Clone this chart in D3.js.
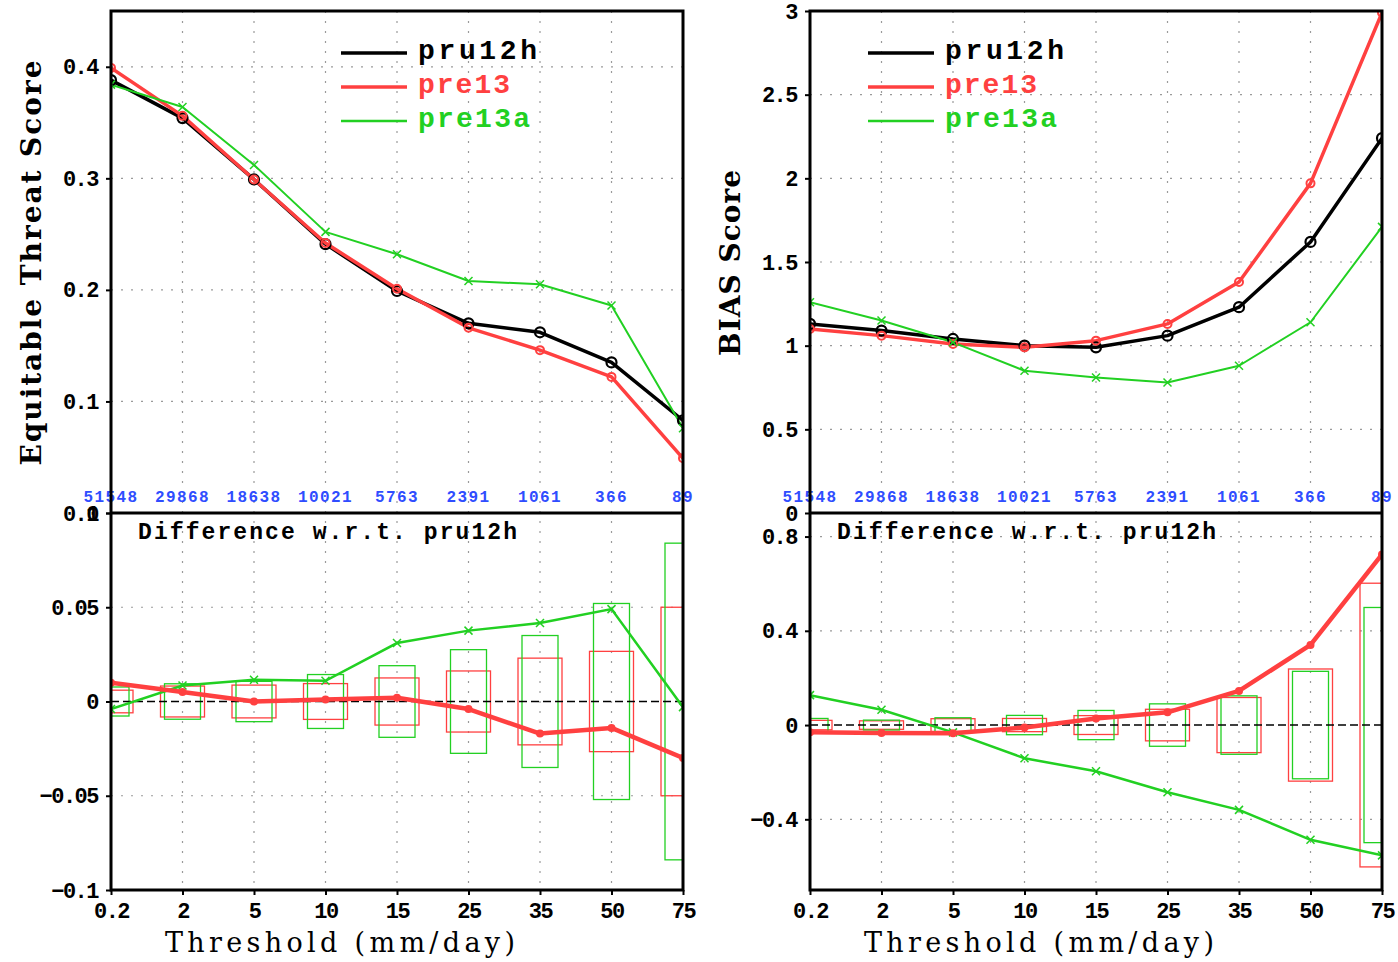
<!DOCTYPE html>
<html>
<head>
<meta charset="utf-8">
<script src="https://cdn.jsdelivr.net/npm/d3@7"></script>
<style>
body { margin: 0; background: #fff; }
</style>
</head>
<body>
<div class="container"></div>
<script>
// thresholds (x categories) and number of observed points above each threshold
let thresholds = ["0.2", "2", "5", "10", "15", "25", "35", "50", "75"];
let counts = ["51548", "29868", "18638", "10021", "5763", "2391", "1061", "366", "89"];
let names = ["pru12h", "pre13", "pre13a"];

// equitable threat score
let etsPru12h = [0.388, 0.354, 0.299, 0.241, 0.199, 0.170, 0.162, 0.135, 0.083];
let etsPre13 = [0.399, 0.356, 0.299, 0.242, 0.201, 0.166, 0.146, 0.122, 0.049];
let etsPre13a = [0.384, 0.364, 0.312, 0.252, 0.232, 0.208, 0.205, 0.186, 0.076];

// ets differences w.r.t. pru12h, and half widths of the boxes
let etsDiffPre13 = [0.010, 0.005, 0.000, 0.001, 0.002, -0.004, -0.017, -0.014, -0.030];
let etsDiffPre13a = [-0.004, 0.0085, 0.0115, 0.011, 0.031, 0.0376, 0.0416, 0.049, -0.003];
let etsBoxPre13 = [0.006, 0.0082, 0.0087, 0.0095, 0.0125, 0.0162, 0.023, 0.0266, 0.050];
let etsBoxPre13a = [0.0077, 0.0094, 0.0107, 0.0143, 0.019, 0.0275, 0.035, 0.052, 0.084];

// bias score
let biasPru12h = [1.13, 1.09, 1.04, 1.00, 0.99, 1.06, 1.23, 1.62, 2.24];
let biasPre13 = [1.10, 1.06, 1.01, 0.99, 1.03, 1.13, 1.38, 1.97, 2.99];
let biasPre13a = [1.26, 1.15, 1.02, 0.85, 0.81, 0.78, 0.88, 1.14, 1.71];

// bias differences w.r.t. pru12h, and half widths of the boxes
let biasDiffPre13 = [-0.031, -0.034, -0.035, -0.010, 0.028, 0.054, 0.145, 0.340, 0.724];
let biasDiffPre13a = [0.127, 0.065, -0.031, -0.141, -0.196, -0.285, -0.360, -0.487, -0.553];
let biasBoxPre13 = [0.020, 0.018, 0.027, 0.028, 0.040, 0.067, 0.117, 0.238, 0.602];
let biasBoxPre13a = [0.028, 0.021, 0.031, 0.041, 0.062, 0.090, 0.124, 0.228, 0.499];

let BLACK = "#000", RED = "#ff4040", GREEN = "#22d022", BLUE = "#2f4dff";
let MONO = "'Liberation Mono', 'DejaVu Sans Mono', monospace";
let SERIF = "'DejaVu Serif', 'Liberation Serif', serif";

let svg = d3.select(".container").append("svg")
    .attr("width", 1398)
    .attr("height", 962);

let fmt = function (d) { return String(d).replace("-", "\u2212"); };

let panels = [
    {
        x0: 111, x1: 683, yTop: 11, yMid: 513, yBot: 890,
        topDomain: [0, 0.45], topTicks: [0, 0.1, 0.2, 0.3, 0.4],
        botDomain: [-0.1, 0.1], botTicks: [-0.1, -0.05, 0, 0.05, 0.1],
        series: [etsPru12h, etsPre13, etsPre13a],
        diffs: [etsDiffPre13, etsDiffPre13a],
        boxes: [etsBoxPre13, etsBoxPre13a],
        title: "Equitable Threat Score", titleX: 41, titleLen: 405,
        legendX: 341
    },
    {
        x0: 810, x1: 1382, yTop: 11, yMid: 513, yBot: 890,
        topDomain: [0, 3], topTicks: [0, 0.5, 1, 1.5, 2, 2.5, 3],
        botDomain: [-0.7, 0.9], botTicks: [-0.4, 0, 0.4, 0.8],
        series: [biasPru12h, biasPre13, biasPre13a],
        diffs: [biasDiffPre13, biasDiffPre13a],
        boxes: [biasBoxPre13, biasBoxPre13a],
        title: "BIAS Score", titleX: 740, titleLen: 186,
        legendX: 868
    }
];

let legendLens = [119, 92, 112];

panels.forEach(function (p, pi) {
    let x = d3.scalePoint().domain(thresholds).range([p.x0, p.x1]).padding(0);
    let yT = d3.scaleLinear().domain(p.topDomain).range([p.yMid, p.yTop]);
    let yB = d3.scaleLinear().domain(p.botDomain).range([p.yBot, p.yMid]);
    let g = svg.append("g");

    svg.append("defs").append("clipPath")
        .attr("id", "clip" + pi)
        .append("rect")
        .attr("x", p.x0).attr("y", p.yTop)
        .attr("width", p.x1 - p.x0).attr("height", p.yBot - p.yTop);

    // grid
    let grid = g.append("g")
        .attr("stroke", "#9a9a9a")
        .attr("stroke-width", 1.2)
        .attr("stroke-dasharray", "2,8");
    thresholds.slice(1, -1).forEach(function (t) {
        grid.append("line")
            .attr("x1", x(t)).attr("x2", x(t))
            .attr("y1", p.yTop).attr("y2", p.yBot);
    });
    p.topTicks.filter(function (v) { return yT(v) > p.yTop + 2 && yT(v) < p.yMid - 2; })
        .forEach(function (v) {
            grid.append("line").attr("x1", p.x0).attr("x2", p.x1)
                .attr("y1", yT(v)).attr("y2", yT(v));
        });
    p.botTicks.filter(function (v) { return v !== 0 && yB(v) > p.yMid + 2 && yB(v) < p.yBot - 2; })
        .forEach(function (v) {
            grid.append("line").attr("x1", p.x0).attr("x2", p.x1)
                .attr("y1", yB(v)).attr("y2", yB(v));
        });

    // blue counts
    g.append("g").selectAll("text")
        .data(counts)
        .enter()
        .append("text")
        .attr("x", function (d, i) { return x(thresholds[i]); })
        .attr("y", p.yMid - 11)
        .attr("text-anchor", "middle")
        .attr("fill", BLUE)
        .attr("font-family", MONO)
        .attr("font-size", 16)
        .attr("font-weight", "bold")
        .attr("letter-spacing", 1.4)
        .text(function (d) { return d; });

    // top lines
    let line = function (ys) {
        return d3.line()
            .x(function (d, i) { return x(thresholds[i]); })
            .y(function (d) { return ys(d); });
    };
    let styles = [
        { color: BLACK, width: 3.5 },
        { color: RED, width: 3.5 },
        { color: GREEN, width: 2 }
    ];
    let top = g.append("g").attr("clip-path", "url(#clip" + pi + ")");
    p.series.forEach(function (s, si) {
        top.append("path")
            .datum(s)
            .attr("fill", "none")
            .attr("stroke", styles[si].color)
            .attr("stroke-width", styles[si].width)
            .attr("stroke-linejoin", "round")
            .attr("d", line(yT));
    });
    // markers
    top.selectAll(".mk0").data(p.series[0]).enter().append("circle")
        .attr("cx", function (d, i) { return x(thresholds[i]); })
        .attr("cy", function (d) { return yT(d); })
        .attr("r", 5).attr("fill", "none").attr("stroke", BLACK).attr("stroke-width", 2.2);
    top.selectAll(".mk1").data(p.series[1]).enter().append("circle")
        .attr("cx", function (d, i) { return x(thresholds[i]); })
        .attr("cy", function (d) { return yT(d); })
        .attr("r", 4).attr("fill", "none").attr("stroke", RED).attr("stroke-width", 2);
    top.selectAll(".mk2").data(p.series[2]).enter().append("path")
        .attr("transform", function (d, i) { return "translate(" + x(thresholds[i]) + "," + yT(d) + ")"; })
        .attr("d", "M-4,-4L4,4M-4,4L4,-4")
        .attr("stroke", GREEN).attr("stroke-width", 1.5);

    // bottom: boxes
    let bot = g.append("g").attr("clip-path", "url(#clip" + pi + ")");
    let boxStyles = [{ color: RED, half: 22 }, { color: GREEN, half: 18 }];
    p.boxes.forEach(function (b, bi) {
        bot.append("g").selectAll("rect")
            .data(b)
            .enter()
            .append("rect")
            .attr("x", function (d, i) { return x(thresholds[i]) - boxStyles[bi].half; })
            .attr("width", boxStyles[bi].half * 2)
            .attr("y", function (d) { return yB(d); })
            .attr("height", function (d) { return yB(-d) - yB(d); })
            .attr("fill", "none")
            .attr("stroke", boxStyles[bi].color)
            .attr("stroke-width", 1.3);
    });
    bot.append("line")
        .attr("x1", p.x0).attr("x2", p.x1)
        .attr("y1", yB(0)).attr("y2", yB(0))
        .attr("stroke", BLACK).attr("stroke-width", 1.5)
        .attr("stroke-dasharray", "8,4");

    bot.append("path").datum(p.diffs[1])
        .attr("fill", "none").attr("stroke", GREEN).attr("stroke-width", 2.5)
        .attr("d", line(yB));
    bot.selectAll(".dm2").data(p.diffs[1]).enter().append("path")
        .attr("transform", function (d, i) { return "translate(" + x(thresholds[i]) + "," + yB(d) + ")"; })
        .attr("d", "M-4,-4L4,4M-4,4L4,-4")
        .attr("stroke", GREEN).attr("stroke-width", 1.5);
    bot.append("path").datum(p.diffs[0])
        .attr("fill", "none").attr("stroke", RED).attr("stroke-width", 4.5)
        .attr("stroke-linejoin", "round")
        .attr("d", line(yB));
    bot.selectAll(".dm1").data(p.diffs[0]).enter().append("circle")
        .attr("cx", function (d, i) { return x(thresholds[i]); })
        .attr("cy", function (d) { return yB(d); })
        .attr("r", 4).attr("fill", RED);

    // axes
    let styleAxis = function (sel) {
        sel.select(".domain").remove();
        sel.selectAll(".tick line").attr("stroke", BLACK).attr("stroke-width", 2);
        sel.selectAll("text")
            .attr("font-family", MONO)
            .attr("font-weight", "bold")
            .attr("font-size", 22)
            .attr("letter-spacing", -1.5)
            .attr("fill", BLACK);
    };
    g.append("g")
        .attr("transform", "translate(" + p.x0 + ",0)")
        .call(d3.axisLeft(yT).tickValues(p.topTicks).tickSize(5).tickPadding(8).tickFormat(fmt))
        .call(styleAxis);
    g.append("g")
        .attr("transform", "translate(" + p.x0 + ",0)")
        .call(d3.axisLeft(yB).tickValues(p.botTicks).tickSize(5).tickPadding(8).tickFormat(fmt))
        .call(styleAxis);
    g.append("g")
        .attr("transform", "translate(0," + p.yBot + ")")
        .call(d3.axisBottom(x).tickSize(5).tickPadding(7))
        .call(styleAxis);

    // frames
    g.append("rect")
        .attr("x", p.x0).attr("y", p.yTop)
        .attr("width", p.x1 - p.x0).attr("height", p.yBot - p.yTop)
        .attr("fill", "none").attr("stroke", BLACK).attr("stroke-width", 3);
    g.append("line")
        .attr("x1", p.x0).attr("x2", p.x1)
        .attr("y1", p.yMid).attr("y2", p.yMid)
        .attr("stroke", BLACK).attr("stroke-width", 3);

    // titles
    g.append("text")
        .attr("transform", "translate(" + p.titleX + "," + ((p.yTop + p.yMid) / 2 + 1) + ") rotate(-90)")
        .attr("text-anchor", "middle")
        .attr("font-family", SERIF)
        .attr("font-weight", "bold")
        .attr("font-size", 28)
        .attr("textLength", p.titleLen)
        .attr("lengthAdjust", "spacing")
        .text(p.title);
    g.append("text")
        .attr("x", p.x0 + 229)
        .attr("y", 952)
        .attr("text-anchor", "middle")
        .attr("font-family", SERIF)
        .attr("font-size", 27)
        .attr("textLength", 350)
        .attr("lengthAdjust", "spacing")
        .text("Threshold (mm/day)");
    g.append("text")
        .attr("x", p.x0 + 27)
        .attr("y", 539)
        .attr("font-family", MONO)
        .attr("font-weight", "bold")
        .attr("font-size", 23)
        .attr("textLength", 379)
        .attr("lengthAdjust", "spacing")
        .text("Difference w.r.t. pru12h");

    // legend
    names.forEach(function (n, ni) {
        let ly = 53 + ni * 34;
        g.append("line")
            .attr("x1", p.legendX).attr("x2", p.legendX + 66)
            .attr("y1", ly).attr("y2", ly)
            .attr("stroke", styles[ni].color)
            .attr("stroke-width", ni === 2 ? 2.5 : 3.5);
        g.append("text")
            .attr("x", p.legendX + 77)
            .attr("y", ly + 6)
            .attr("font-family", MONO)
            .attr("font-weight", "bold")
            .attr("font-size", 28)
            .attr("textLength", legendLens[ni])
            .attr("lengthAdjust", "spacing")
            .attr("fill", styles[ni].color)
            .text(n);
    });
});
</script>
</body>
</html>
